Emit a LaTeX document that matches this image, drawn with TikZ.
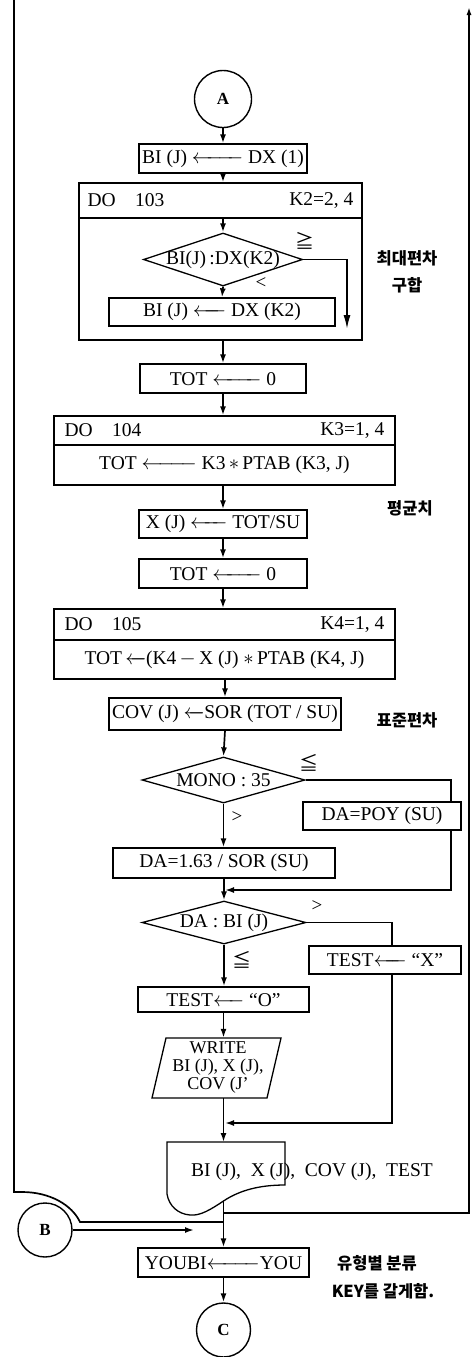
\documentclass[tikz,border=0pt]{standalone}
\usepackage{amsmath}
\usepackage{fontspec}
\setmainfont{Liberation Serif}
\newfontfamily\kr{Noto Sans CJK KR}
\usetikzlibrary{arrows.meta,shapes.geometric}
\newcommand\la[1]{$\xleftarrow{\hspace{#1}}$}
\begin{document}
\begin{tikzpicture}[x=1pt,y=-1pt,
  font=\fontsize{19.5}{21}\selectfont,
  box/.style={draw,line width=1.3pt,rectangle,inner sep=0pt,minimum width=#1},
  dia/.style={draw,diamond,line width=1.3pt,inner sep=0pt},
  conn/.style={draw,circle,line width=1.4pt,inner sep=0pt,minimum size=#1,font=\bfseries\fontsize{17}{17}\selectfont},
  txt/.style={inner sep=0pt},
  side/.style={inner sep=0pt,font=\kr\bfseries\fontsize{16.5}{18}\selectfont},
  lbl/.style={inner sep=0pt,font=\fontsize{19}{19}\selectfont},
  ln/.style={line width=1.7pt},
  flow/.style={line width=1.7pt,-{Latex[length=9pt,width=6pt]}},
  bigflow/.style={line width=1.7pt,-{Latex[length=14pt,width=7pt]}}
]
\useasboundingbox (0,0) rectangle (473,1357);

% outer frame lines
\coordinate (ltop) at (14,0);
\coordinate (lj) at (223.5,1222);
\draw[ln] (ltop) -- (14,1192) -- (22,1192) .. controls (50,1192) and (72,1205) .. (80,1222) -- (lj);
\coordinate (rj) at (223.5,1213);
\coordinate (rtop) at (469,7);
\draw[line width=1.7pt,-{Latex[length=8pt,width=5pt]}] (rj) -| (rtop);

% A
\node[conn=57] (A) at (223,99) {A};
\node[box=168,minimum height=29] (b1) at (223,158.5) {BI (J) \la{40pt} DX (1)};
\draw[flow] (A) -- (b1);

% DO 103
\node[box=283,minimum height=35] (h103) at (220.5,200.5) {};
\node[box=283,minimum height=122] (g103) at (220.5,279) {};
\node[txt,anchor=west] (h103l) at ([xshift=9pt]h103.west) {DO\quad 103};
\node[txt,anchor=east] (h103r) at ([xshift=-9pt]h103.east) {K2=2, 4};
\draw[flow] (b1) -- (b1.south |- h103.north);

\node[dia,minimum width=159,minimum height=53] (d1) at (223,259.5) {};
\node[txt] (d1t) at (d1) {BI(J)\,:DX(K2)};
\draw[flow] (b1.south |- h103.south) -- (d1.north);
\node[lbl] (ge1) at (305,241) {\kr ≧};
\node[lbl] (lt1) at (261,283) {<};
\coordinate (e1) at (347,329);
\draw[bigflow] (d1.east) -| (e1);
\node[box=226,minimum height=28] (b2) at (222,312) {BI (J) \la{22pt} DX (K2)};
\draw[flow] (d1.south) -- (b2.north);
\node[side] (s1a) at (407,258) {최대편차};
\node[side] (s1b) at (407,285) {구합};

% TOT <- 0
\node[box=166,minimum height=29] (tot1) at (223,378.5) {TOT \la{38pt} 0};
\draw[flow] (tot1.north |- g103.south) -- (tot1.north);

% DO 104
\node[box=341,minimum height=29] (h104) at (224.5,430.5) {};
\node[box=341,minimum height=40] (g104) at (224.5,465) {TOT \la{44pt} K3\,$\ast$\,PTAB (K3, J)};
\node[txt,anchor=west] (h104l) at ([xshift=11pt]h104.west) {DO\quad 104};
\node[txt,anchor=east] (h104r) at ([xshift=-11pt]h104.east) {K3=1, 4};
\draw[flow] (tot1.south) -- (tot1.south |- h104.north);
\node[side] (s2) at (410,508) {평균치};

\node[box=168,minimum height=28] (xj) at (223,524) {X (J) \la{26pt} TOT/SU};
\draw[flow] (xj.north |- g104.south) -- (xj.north);
\node[box=168,minimum height=29] (tot2) at (223,573.5) {TOT \la{38pt} 0};
\draw[flow] (xj.south) -- (tot2.north);

% DO 105
\node[box=341,minimum height=31] (h105) at (224.5,624.5) {};
\node[box=341,minimum height=39] (g105) at (224.5,659.5) {TOT\,\la{2pt}(K4\,$-$\,X (J) $\ast$\,PTAB (K4, J)};
\node[txt,anchor=west] (h105l) at ([xshift=11pt]h105.west) {DO\quad 105};
\node[txt,anchor=east] (h105r) at ([xshift=-11pt]h105.east) {K4=1, 4};
\draw[flow] (tot2.south) -- (tot2.south |- h105.north);

\node[box=232,minimum height=32] (cov) at (225,714) {COV (J) \la{3pt}SOR (TOT / SU)};
\draw[flow] (cov.north |- g105.south) -- (cov.north);
\node[side] (s3) at (407,720) {표준편차};

% MONO : 35
\node[dia,minimum width=163,minimum height=46] (d2) at (223.5,780) {};
\node[txt] (d2t) at (d2) {MONO : 35};
\draw[flow] (cov.south) -- (d2.north);
\node[lbl] (le1) at (309,763) {\kr ≦};
\node[lbl] (gt1) at (237,817) {>};
\node[box=158,minimum height=28] (poy) at (382,816) {DA=POY (SU)};
\coordinate (c451) at (451,780);
\draw[ln] (d2.east) -- (c451) -- (poy.north -| c451);
\coordinate (m1) at (225,890);
\draw[flow] (poy.south -| c451) |- (m1);

\node[box=222,minimum height=30] (da) at (224,863) {DA=1.63 / SOR (SU)};
\draw[flow] (d2.south) -- (d2.south |- da.north);

% DA : BI(J)
\node[dia,minimum width=164,minimum height=43] (d3) at (224,922.5) {};
\node[txt] (d3t) at (d3) {DA : BI (J)};
\draw[flow] (d3.north |- da.south) -- (d3.north);
\node[lbl] (gt2) at (317,906) {>};
\node[lbl] (le2) at (242,960) {\kr ≦};
\node[box=152,minimum height=28] (testx) at (385,960) {TEST\la{22pt} “X”};
\coordinate (c392) at (392,922.5);
\draw[ln] (d3.east) -- (c392) -- (testx.north -| c392);
\coordinate (m2) at (225,1123);
\draw[flow] (testx.south -| c392) |- (m2);

\node[box=171,minimum height=25] (testo) at (223.5,999.5) {TEST\la{20pt} “O”};
\draw[flow] (d3.south) -- (d3.south |- testo.north);

% WRITE parallelogram
\draw[line width=1.3pt] (166,1038) -- (281,1038) -- (267,1098) -- (152,1098) -- cycle;
\node[txt,align=center,minimum width=115,minimum height=60,font=\fontsize{18}{18}\selectfont] (wr) at (218,1068) {WRITE\\BI (J), X (J),\\COV (J'};
\draw[flow] (testo.south) -- (testo.south |- wr.north);

% document
\coordinate (doctop) at (223.5,1142);
\coordinate (docbot) at (223.5,1201);
\draw[line width=1.3pt] (167,1142) -- (285,1142) -- (285,1185)
  .. controls (260,1185) and (240,1190) .. (docbot)
  .. controls (210,1210) and (200,1216) .. (190,1215)
  .. controls (178,1214) and (169,1206) .. (167,1194) -- cycle;
\node[txt] (doct) at (312,1172) {BI (J), \ X (J), \ COV (J), \ TEST};
\draw[flow] (testo.south |- wr.south) -- (doctop);

% B connector
\node[conn=54] (B) at (45,1230) {B};
\coordinate (bt) at (194,1230);
\draw[flow] (B.east) -- (bt);

% YOUBI
\node[box=171,minimum height=29] (youbi) at (223.5,1262.5) {YOUBI\la{42pt}YOU};
\draw[flow] (docbot) -- (youbi.north);
\node[side] (s4a) at (377,1263) {유형별 분류};
\node[side] (s4b) at (383,1291) {KEY를 갈게함.};

\node[conn=54] (C) at (223.5,1330) {C};
\draw[flow] (youbi.south) -- (C.north);
\end{tikzpicture}
\end{document}
